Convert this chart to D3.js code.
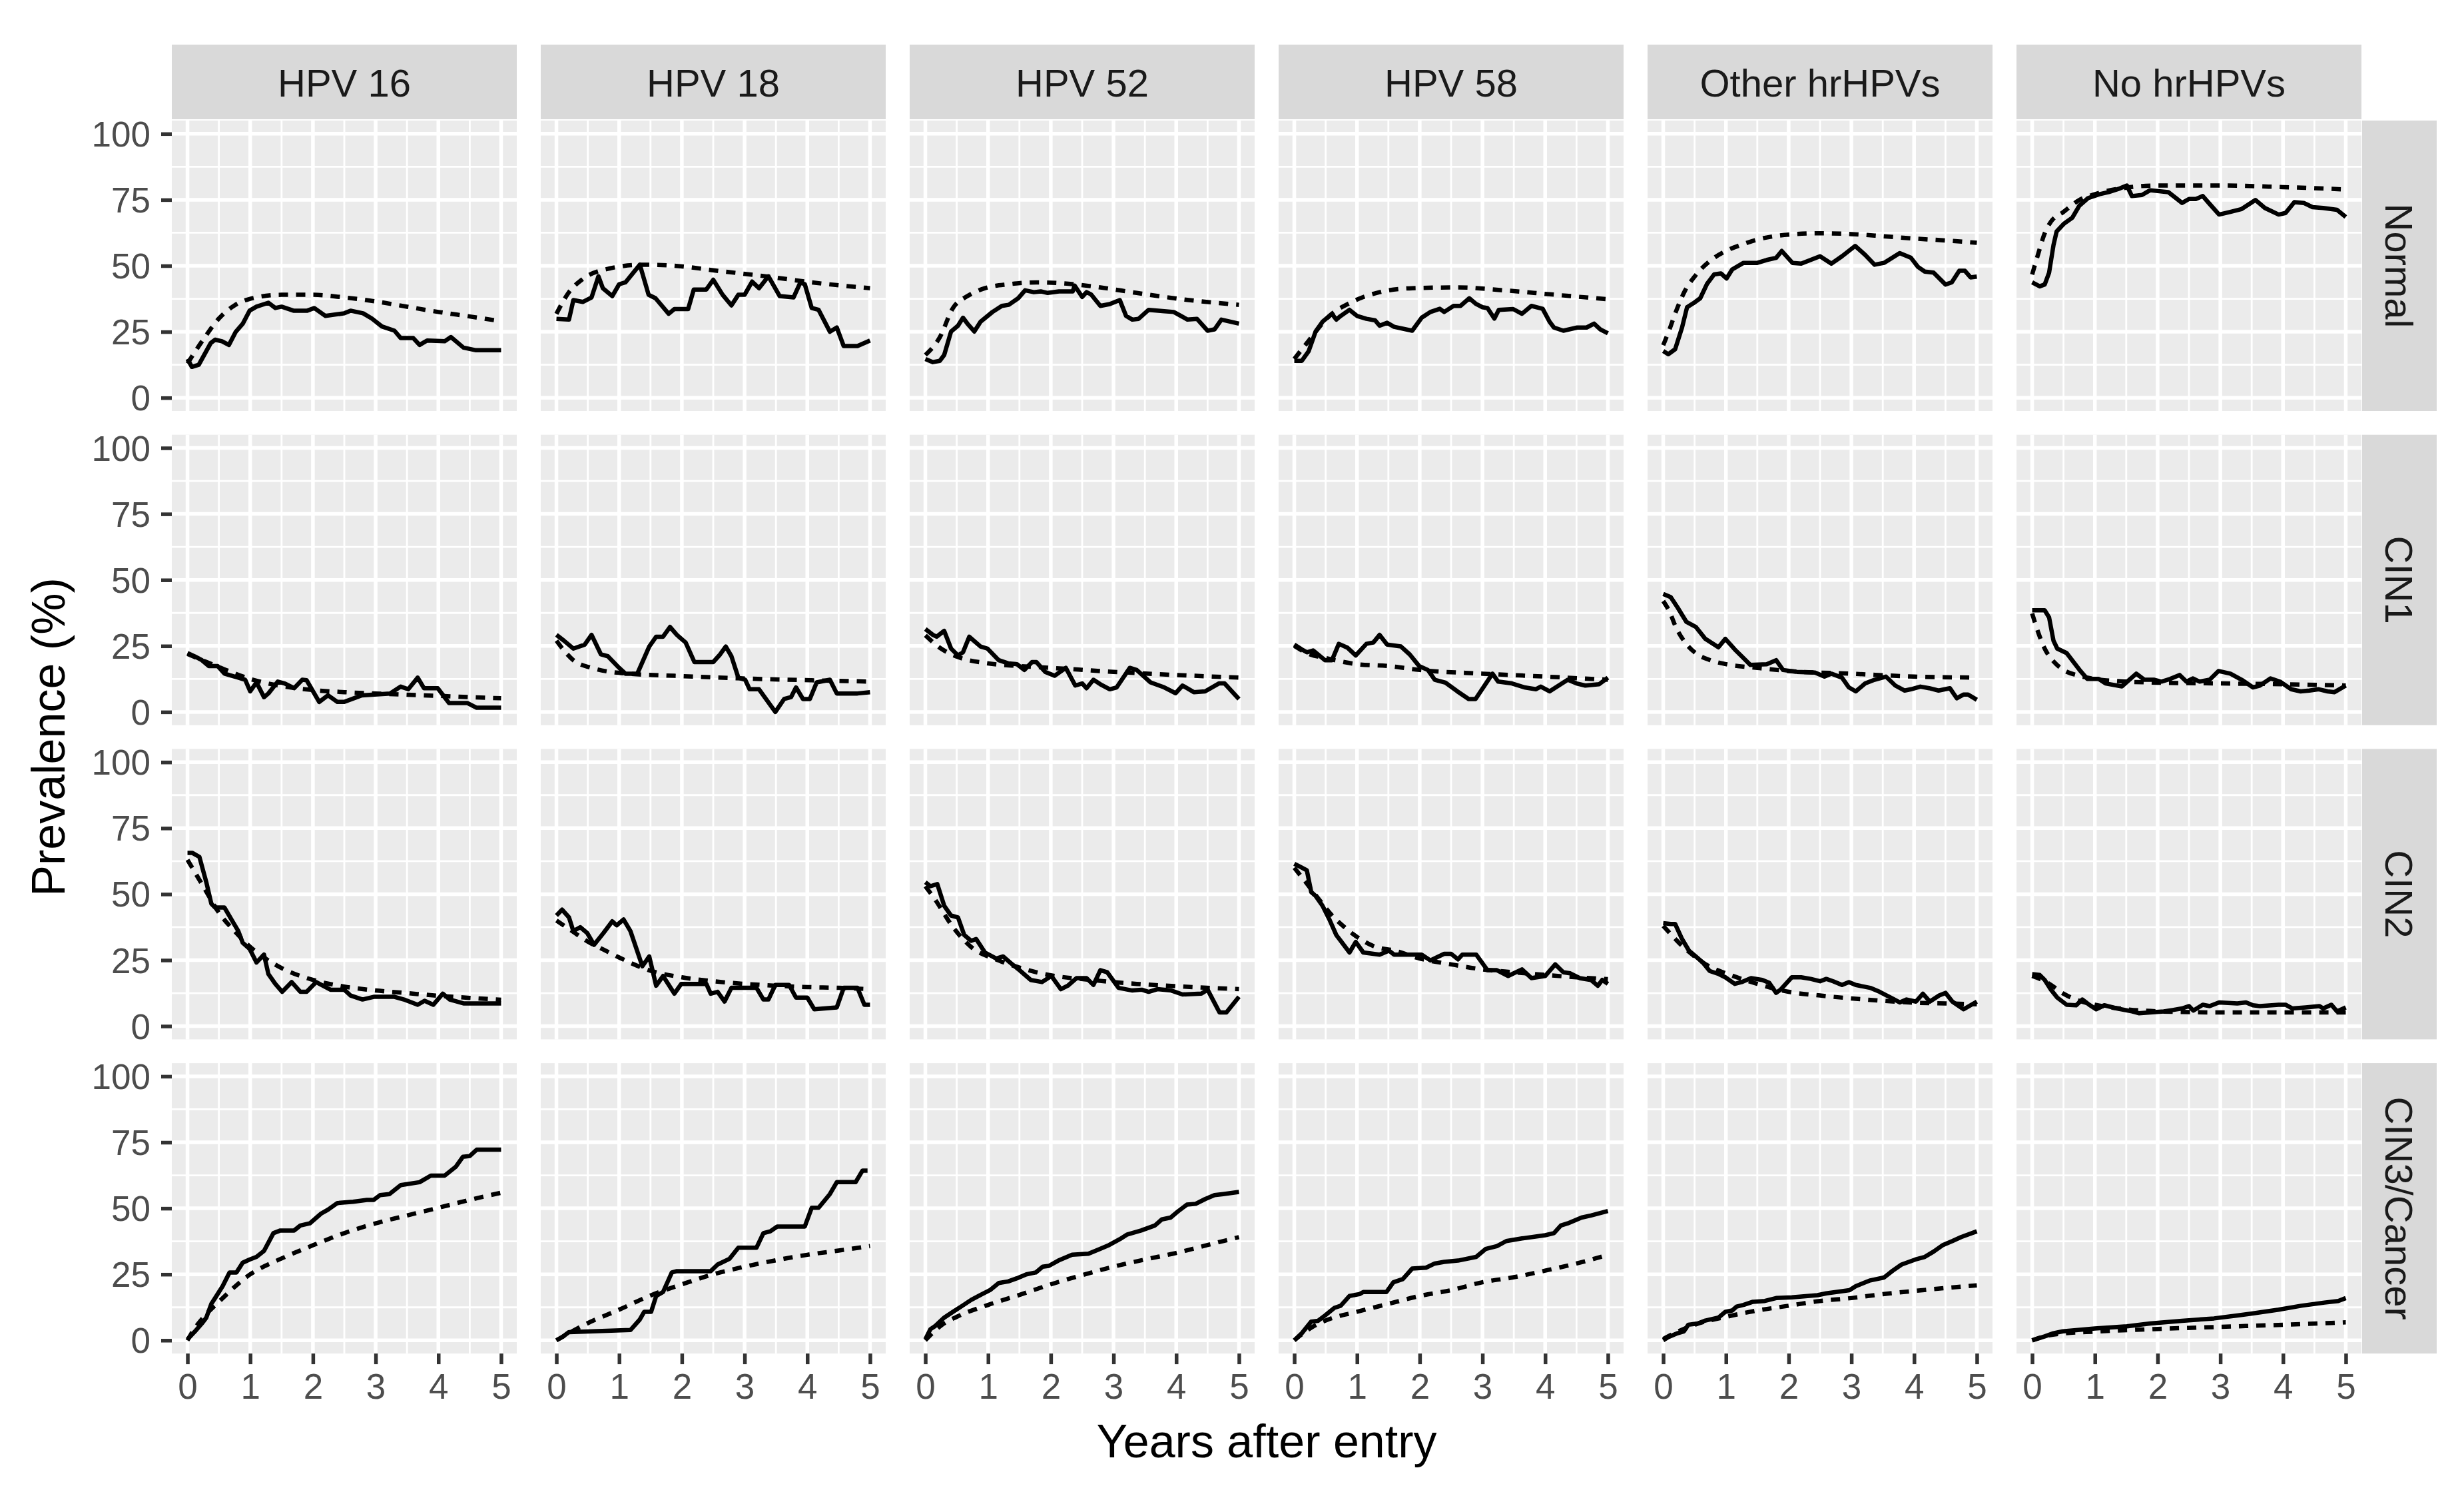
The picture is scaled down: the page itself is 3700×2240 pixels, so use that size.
<!DOCTYPE html>
<html>
<head>
<meta charset="utf-8">
<script src="https://cdn.jsdelivr.net/npm/d3@7"></script>
<style>
  html, body { margin: 0; padding: 0; background: #ffffff; }
  svg { display: block; }
</style>
</head>
<body>
<svg id="chart" width="3700" height="2240"></svg>
<script>
// ---------------- DATA ----------------
const viruses = ["HPV 16", "HPV 18", "HPV 52", "HPV 58", "Other hrHPVs", "No hrHPVs"];
const lesions = ["Normal", "CIN1", "CIN2", "CIN3/Cancer"];
const xTicks = [0, 1, 2, 3, 4, 5];
const yTicks = [0, 25, 50, 75, 100];
const xTitle = "Years after entry";
const yTitle = "Prevalence (%)";

// observed prevalence (solid) and model fit (dashed): [years, %]
// ---- Normal ----
const obs_HPV16_Normal = [[0,14.7],[0.07,11.7],[0.18,12.5],[0.37,20.7],[0.44,22],[0.55,21.4],[0.66,20],[0.77,25],[0.88,28],[0.99,33],[1.1,34.5],[1.29,36],[1.4,34],[1.5,34.5],[1.69,33],[1.91,33],[2.02,34],[2.2,31],[2.5,32],[2.6,33],[2.8,32],[2.94,30],[3.1,27],[3.3,25.4],[3.4,22.6],[3.6,22.6],[3.7,20],[3.82,21.7],[4.1,21.4],[4.2,23],[4.4,19],[4.6,18],[5,18]];
const fit_HPV16_Normal = [[0,13],[0.25,22],[0.5,30],[0.75,35],[1,37.5],[1.5,39],[2,39],[2.5,38],[3,36.5],[3.5,34.5],[4,32.5],[4.5,30.8],[5,29]];
const obs_HPV18_Normal = [[0,29.9],[0.2,29.6],[0.27,37],[0.42,36.3],[0.56,38],[0.67,46],[0.74,41.5],[0.89,38.5],[1.0,43],[1.1,43.7],[1.33,50.4],[1.47,39],[1.58,37.7],[1.79,31.8],[1.88,33.6],[2.1,33.6],[2.19,41],[2.39,41],[2.5,44.7],[2.65,39],[2.79,35],[2.9,39],[3.0,39],[3.12,44],[3.23,41.5],[3.38,46],[3.56,38.5],[3.78,38],[3.89,43.7],[3.96,43],[4.07,34],[4.18,33.3],[4.36,25],[4.47,26.6],[4.58,19.6],[4.8,19.6],[5,21.7]];
const fit_HPV18_Normal = [[0,31.8],[0.2,40],[0.42,45],[0.85,49],[1.37,50.4],[1.88,50],[2.6,48],[3.34,46],[4.07,43.7],[5,41.5]];
const obs_HPV52_Normal = [[0,14.7],[0.12,13.5],[0.23,14],[0.3,16.2],[0.41,25.1],[0.52,27.3],[0.6,30.3],[0.67,28.1],[0.78,25.1],[0.88,28.8],[1.07,32.5],[1.22,34.8],[1.33,35.2],[1.48,37.7],[1.59,40.7],[1.73,40],[1.84,40.3],[1.95,39.7],[2.13,40.3],[2.35,40.3],[2.38,42.5],[2.5,38.2],[2.57,40],[2.64,39.2],[2.79,34.8],[2.94,35.5],[3.1,37],[3.2,31],[3.3,29.6],[3.4,29.9],[3.56,33.3],[3.81,32.8],[3.96,32.5],[4.18,29.6],[4.33,29.9],[4.5,25.4],[4.61,25.9],[4.72,29.6],[5,28.1]];
const fit_HPV52_Normal = [[0,16.2],[0.23,22.9],[0.44,34],[0.67,38.5],[0.95,41.5],[1.33,43],[1.77,43.7],[2.28,43.2],[2.79,41.8],[3.37,39.7],[4.1,37.3],[5,35.2]];
const obs_HPV58_Normal = [[0,14],[0.12,14],[0.23,17.7],[0.34,25.1],[0.45,28.8],[0.6,31.8],[0.67,29.6],[0.74,31],[0.88,33.3],[1.0,31],[1.15,29.9],[1.29,29.3],[1.36,27.3],[1.48,28.4],[1.59,26.9],[1.88,25.4],[2.03,30.3],[2.17,32.5],[2.32,33.7],[2.39,32.5],[2.54,34.8],[2.65,34.8],[2.79,37.7],[2.9,35.5],[3.0,34.3],[3.08,34],[3.19,30],[3.26,33.3],[3.49,33.6],[3.63,31.8],[3.78,34.8],[3.96,33.7],[4.07,28.8],[4.14,26.6],[4.29,25.4],[4.51,26.6],[4.66,26.6],[4.78,28.1],[4.88,25.9],[5,24.4]];
const fit_HPV58_Normal = [[0,14.7],[0.2,20.7],[0.56,31],[0.92,36.3],[1.36,40],[1.88,41.5],[2.6,41.8],[3.34,40.7],[4.07,39.2],[5,37.3]];
const obs_Other_Normal = [[0,17.7],[0.08,16.5],[0.19,18.4],[0.3,26.6],[0.38,34.3],[0.48,35.8],[0.59,37.7],[0.7,43.2],[0.81,46.7],[0.92,47.1],[1.01,45.2],[1.1,48.6],[1.28,51.1],[1.5,51.1],[1.65,52.2],[1.8,53],[1.89,55.6],[2.06,51.1],[2.2,50.8],[2.35,52.2],[2.5,53.6],[2.68,50.8],[2.85,53.6],[3.06,57.5],[3.22,54.1],[3.37,50.4],[3.52,51.1],[3.77,54.8],[3.95,53],[4.06,49.6],[4.17,47.8],[4.31,47.4],[4.5,42.9],[4.6,43.7],[4.72,48.1],[4.81,48.1],[4.9,45.6],[5,45.9]];
const fit_Other_Normal = [[0,19.9],[0.1,25.9],[0.2,32.5],[0.35,40.7],[0.5,45.9],[0.75,51.9],[1,55.6],[1.25,58],[1.5,59.9],[2,61.8],[2.5,62.3],[3,62],[3.5,61.2],[4,60.3],[4.5,59.6],[5,58.7]];
const obs_NoHr_Normal = [[0,43.7],[0.12,42.2],[0.2,42.9],[0.27,47.4],[0.34,57.8],[0.39,63],[0.51,66],[0.64,68.2],[0.75,72.7],[0.89,75.6],[1.07,77.1],[1.22,77.9],[1.4,79.3],[1.51,80.4],[1.59,76.4],[1.75,76.8],[1.88,78.6],[2.17,77.9],[2.39,73.8],[2.5,75.3],[2.61,75.3],[2.72,76.4],[2.83,73.4],[2.98,69.4],[3.16,70.4],[3.34,71.5],[3.56,74.9],[3.71,71.9],[3.93,69.4],[4.04,70],[4.18,74.1],[4.33,73.8],[4.47,72.2],[4.64,71.9],[4.86,71.2],[5,68.5]];
const fit_NoHr_Normal = [[0,46.7],[0.1,54.8],[0.2,62.3],[0.3,66.7],[0.5,70.4],[0.75,74.9],[1,77.1],[1.5,79.6],[2,80.4],[3,80.4],[4,79.8],[5,78.9]];
// ---- CIN1 ----
const obs_HPV16_CIN1 = [[0,22.3],[0.12,21],[0.23,19.6],[0.34,17.4],[0.48,17.4],[0.59,14.5],[0.81,13],[0.92,12.2],[1.0,7.8],[1.1,11.2],[1.22,5.6],[1.29,7],[1.44,11.5],[1.55,10.8],[1.7,9],[1.83,12.2],[1.9,12],[2.1,3.8],[2.24,6.3],[2.39,3.8],[2.5,3.8],[2.78,6.3],[3.23,7],[3.4,9.6],[3.52,8.6],[3.67,13],[3.77,9],[3.99,9],[4.17,3.4],[4.46,3.4],[4.61,1.6],[5,1.6]];
const fit_HPV16_CIN1 = [[0,22],[0.5,17],[1,12.5],[1.5,9.8],[2,8.3],[2.5,7.5],[3,7],[3.5,6.5],[4,6.1],[4.5,5.6],[5,5.2]];
const obs_HPV18_CIN1 = [[0,29.2],[0.12,27],[0.27,24],[0.45,25.5],[0.56,29.2],[0.71,21.8],[0.82,21.1],[1.0,16.7],[1.1,14.5],[1.29,14.5],[1.48,24.8],[1.59,28.5],[1.7,28.5],[1.81,32.2],[1.92,29.2],[2.06,26.3],[2.2,18.9],[2.5,18.9],[2.61,21.8],[2.7,24.8],[2.79,21.1],[2.9,13],[3.01,12.2],[3.08,8.6],[3.23,8.6],[3.49,0],[3.63,4.9],[3.74,5.6],[3.82,9.3],[3.93,4.9],[4.04,4.9],[4.15,11.2],[4.36,12.2],[4.47,7],[4.8,7],[5,7.5]];
const fit_HPV18_CIN1 = [[0,27],[0.12,23.3],[0.27,19.6],[0.56,16.7],[1.15,14.5],[1.88,13.7],[2.97,12.7],[4.07,12],[5,11.5]];
const obs_HPV52_CIN1 = [[0,31.4],[0.12,29.2],[0.18,28.5],[0.3,30.7],[0.41,24],[0.52,21.4],[0.6,22.6],[0.7,28.5],[0.88,24.8],[0.99,24],[1.17,19.6],[1.32,18.4],[1.46,18.1],[1.58,15.9],[1.7,18.9],[1.77,18.9],[1.91,15.2],[2.06,13.7],[2.24,16.7],[2.39,10],[2.5,10.8],[2.57,9],[2.68,12.2],[2.79,10.5],[2.94,8.6],[3.05,9.3],[3.26,16.7],[3.37,15.9],[3.59,11.2],[3.81,9.3],[3.99,7.1],[4.1,10],[4.28,7.5],[4.46,7.8],[4.68,10.8],[4.77,10.8],[5,4.9]];
const fit_HPV52_CIN1 = [[0,29],[0.25,24],[0.5,21],[1,18.4],[1.5,17.4],[2,16.7],[3,15.2],[4,14],[5,13]];
const obs_HPV58_CIN1 = [[0,25.5],[0.12,23.7],[0.2,22.6],[0.3,23.3],[0.49,19.6],[0.6,19.6],[0.71,25.8],[0.85,24.3],[0.98,21.4],[1.15,25.8],[1.26,26.3],[1.36,29.2],[1.48,25.5],[1.7,24.8],[1.84,21.8],[1.99,17.4],[2.13,15.9],[2.24,12.2],[2.41,11.1],[2.6,7.8],[2.78,4.9],[2.89,4.9],[3.16,14.5],[3.25,11.5],[3.47,10.8],[3.67,9.3],[3.85,8.6],[3.93,9.6],[4.07,7.8],[4.36,12.2],[4.5,10.8],[4.64,10],[4.86,10.5],[5,13]];
const fit_HPV58_CIN1 = [[0,25],[0.25,21.8],[0.5,20.4],[1,18.1],[1.5,17.4],[2,15.9],[3,14.5],[4,13.4],[5,12.2]];
const obs_Other_CIN1 = [[0,44.7],[0.12,43.5],[0.23,39.5],[0.37,34.1],[0.52,32.2],[0.67,27.7],[0.88,24.5],[0.99,27.7],[1.14,23.7],[1.28,20.4],[1.39,17.8],[1.65,18.1],[1.8,19.6],[1.91,15.9],[2.13,15.2],[2.42,14.9],[2.57,13.4],[2.68,14.5],[2.85,13],[2.96,9.3],[3.07,7.8],[3.22,10.8],[3.37,12.2],[3.55,13.4],[3.7,10],[3.85,8.1],[3.95,8.6],[4.1,9.6],[4.24,9],[4.39,8.1],[4.57,9],[4.68,5.2],[4.79,6.6],[4.86,6.6],[5,4.6]];
const fit_Other_CIN1 = [[0,42],[0.1,38],[0.2,32.2],[0.35,26.3],[0.5,22.6],[0.75,19.6],[1,18.1],[1.5,16.7],[2,15.5],[3,14.5],[4,13.4],[5,13]];
const obs_NoHr_CIN1 = [[0,38.5],[0.09,38.5],[0.2,38.5],[0.27,35.8],[0.34,27],[0.4,24],[0.55,22.3],[0.66,18.9],[0.77,15.5],[0.88,12.5],[1.06,12.5],[1.17,10.8],[1.43,9.7],[1.55,12.2],[1.66,14.5],[1.79,12.2],[1.94,12.2],[2.06,11.5],[2.2,12.5],[2.35,14],[2.46,11.5],[2.56,12.7],[2.67,11.5],[2.83,12.2],[2.97,15.5],[3.16,14.5],[3.34,12.2],[3.52,9.3],[3.63,10],[3.8,12.7],[3.95,11.5],[4.13,8.6],[4.28,7.8],[4.42,8.1],[4.57,8.6],[4.71,7.8],[4.82,7.5],[5,10]];
const fit_NoHr_CIN1 = [[0,37.3],[0.1,29.9],[0.2,24],[0.35,18.9],[0.5,15.9],[0.75,13.7],[1,12.5],[1.5,11.5],[2,11.1],[3,10.8],[4,10.5],[5,10]];
// ---- CIN2 ----
const obs_HPV16_CIN2 = [[0,65.6],[0.08,65.6],[0.19,64.1],[0.3,54.5],[0.38,46.4],[0.44,44.9],[0.59,44.9],[0.7,40.4],[0.81,36],[0.88,31.6],[0.99,29.3],[1.1,24.1],[1.22,27.1],[1.29,19.7],[1.4,16],[1.51,13],[1.66,16.7],[1.8,13],[1.9,13],[2.05,16.7],[2.28,13.8],[2.5,13.8],[2.6,11.6],[2.79,10.1],[2.97,11.1],[3.3,11.1],[3.45,10.1],[3.67,8.1],[3.78,9.6],[3.92,8.1],[4.07,12.3],[4.18,10.1],[4.4,8.6],[5,8.6]];
const fit_HPV16_CIN2 = [[0,63],[0.25,53],[0.5,43],[0.75,36],[1,30],[1.25,25.5],[1.5,22],[2,17.5],[2.5,15],[3,13.5],[3.5,12.5],[4,11.5],[4.5,10.7],[5,10]];
const obs_HPV18_CIN2 = [[0,41.9],[0.09,44.1],[0.2,41.2],[0.27,36],[0.38,37.5],[0.49,35.3],[0.6,30.8],[0.75,35.3],[0.89,39.7],[0.96,38.2],[1.07,40.4],[1.18,36],[1.37,22.7],[1.48,26.4],[1.59,15.3],[1.7,19],[1.88,12.3],[1.99,16],[2.39,16],[2.46,12.3],[2.57,13],[2.68,9.3],[2.79,14.5],[3.19,14.5],[3.3,10.1],[3.38,10.1],[3.49,15.6],[3.71,15.6],[3.82,10.8],[4.0,10.8],[4.11,6.4],[4.47,7.1],[4.58,14.5],[4.8,14.5],[4.91,8.1],[5,8.1]];
const fit_HPV18_CIN2 = [[0,40],[0.25,36],[0.5,32],[0.75,29],[1,26],[1.5,21],[2,18.5],[2.5,17],[3,16],[3.5,15.3],[4,14.8],[4.5,14.5],[5,14]];
const obs_HPV52_CIN2 = [[0,54.5],[0.08,53],[0.19,53.8],[0.3,45.6],[0.41,41.9],[0.52,41.2],[0.62,34.5],[0.73,32.3],[0.81,33],[0.95,27.9],[1.13,25.6],[1.24,26.4],[1.35,24.1],[1.5,21.2],[1.68,17.5],[1.86,16.7],[2.01,19],[2.16,14],[2.27,15.3],[2.41,18.2],[2.57,18.2],[2.68,15.6],[2.79,21.2],[2.9,20.4],[3.08,14.5],[3.3,13.5],[3.45,13.8],[3.56,13],[3.7,14],[3.92,13.5],[4.1,12],[4.4,12.3],[4.5,13.8],[4.69,5.2],[4.8,5.2],[5,11.1]];
const fit_HPV52_CIN2 = [[0,53],[0.16,47.8],[0.44,37.5],[0.73,30],[1.17,24.9],[1.54,21.9],[1.9,19.7],[2.64,17.5],[3.37,16],[4.1,15],[5,14]];
const obs_HPV58_CIN2 = [[0,61.5],[0.09,60.4],[0.2,59],[0.27,50.8],[0.34,49.3],[0.45,45.6],[0.56,40.4],[0.67,34.5],[0.74,32.3],[0.88,27.9],[0.98,31.9],[1.1,27.9],[1.36,27.1],[1.51,28.6],[1.59,27.1],[2.03,27.1],[2.17,24.9],[2.39,27.4],[2.5,27.4],[2.61,25.3],[2.68,27.1],[2.9,27.1],[3.08,21.2],[3.23,21.2],[3.41,19],[3.63,21.5],[3.78,18.2],[4.0,19],[4.16,23.4],[4.29,20.4],[4.4,20],[4.55,18.2],[4.73,17.5],[4.84,15.3],[4.91,17.5],[5,16]];
const fit_HPV58_CIN2 = [[0,60],[0.2,54],[0.4,47.8],[0.6,42],[0.8,37.5],[1,33.8],[1.3,30],[1.6,28.6],[2,25.6],[2.5,23.4],[3,21.5],[3.5,20.4],[4,19.4],[4.5,18.5],[5,17.8]];
const obs_Other_CIN2 = [[0,39],[0.12,38.7],[0.19,38.7],[0.3,33],[0.41,28.6],[0.52,26.4],[0.63,24.1],[0.74,20.9],[0.89,19.7],[0.99,18.5],[1.14,16],[1.25,16.7],[1.4,18.2],[1.58,17.5],[1.69,16.4],[1.8,12.6],[1.87,13.8],[2.05,18.5],[2.2,18.5],[2.35,17.9],[2.5,17],[2.6,17.9],[2.71,17],[2.85,15.6],[2.96,16.7],[3.07,15.6],[3.3,14.5],[3.45,13],[3.63,10.8],[3.77,9],[3.88,10.1],[4.03,9.3],[4.14,12.3],[4.25,9.3],[4.4,11.6],[4.5,12.6],[4.61,9.3],[4.79,6.4],[5,9.3]];
const fit_Other_CIN2 = [[0,38],[0.25,31.6],[0.5,26.4],[0.75,22.4],[1,20],[1.5,16],[2,13],[2.5,11.6],[3,10.5],[3.5,9.6],[4,8.9],[4.5,8.6],[5,8.3]];
const obs_NoHr_CIN2 = [[0,19.7],[0.12,19.4],[0.2,17.5],[0.3,13.8],[0.4,10.8],[0.55,8.1],[0.7,7.9],[0.8,10.1],[0.91,8.1],[1.02,6.4],[1.15,7.9],[1.35,6.7],[1.59,5.6],[1.7,4.9],[1.88,5.2],[2.1,5.6],[2.24,6.1],[2.39,6.7],[2.5,7.6],[2.57,5.9],[2.72,8.1],[2.83,7.6],[2.98,9],[3.27,8.6],[3.41,9],[3.52,7.9],[3.63,7.6],[3.93,8.1],[4.04,8.1],[4.15,6.7],[4.36,7.1],[4.58,7.6],[4.64,6.7],[4.77,8.1],[4.86,5.6],[5,7.1]];
const fit_NoHr_CIN2 = [[0,19],[0.25,16.4],[0.5,12.3],[0.75,9.6],[1,8.1],[1.5,6.4],[2,5.6],[3,5.2],[4,5.2],[5,5.2]];
// ---- CIN3/Cancer ----
const obs_HPV16_CIN3 = [[0,0.4],[0.12,3.4],[0.23,6.4],[0.3,8.6],[0.38,13.8],[0.44,16],[0.56,20.5],[0.67,25.7],[0.78,25.7],[0.88,29.4],[0.99,30.6],[1.1,31.6],[1.22,33.9],[1.37,40.6],[1.48,41.6],[1.7,41.6],[1.8,43.5],[1.95,44.3],[2.13,48],[2.24,49.5],[2.39,52],[2.64,52.5],[2.86,53.2],[2.97,53.2],[3.07,55],[3.22,55.4],[3.4,58.8],[3.7,59.9],[3.88,62.4],[4.1,62.4],[4.28,65.8],[4.39,69.5],[4.5,69.8],[4.61,72.2],[5,72.2]];
const fit_HPV16_CIN3 = [[0,0],[0.1,4],[0.25,8.6],[0.5,14.6],[1,25],[1.5,31],[2,36],[2.5,40.6],[3,44.3],[3.5,47.3],[4,50.2],[4.5,53.2],[5,55.9]];
const obs_HPV18_CIN3 = [[0,0],[0.09,1.2],[0.2,3.1],[1.18,3.9],[1.33,7.9],[1.4,10.8],[1.51,10.8],[1.59,16.8],[1.7,18.3],[1.84,25.7],[1.92,26.2],[2.46,26.2],[2.57,28.7],[2.76,30.9],[2.9,35.1],[3.19,35.1],[3.3,40.6],[3.41,41.3],[3.52,43.1],[3.96,43.1],[4.07,50.2],[4.18,50.2],[4.36,55.4],[4.47,59.9],[4.77,59.9],[4.88,64.3],[4.96,64.3]];
const fit_HPV18_CIN3 = [[0,0],[0.5,6.5],[1,11.6],[1.5,17],[2,21.2],[2.5,25],[3,27.9],[3.5,30.3],[4,32.4],[4.5,34],[5,35.7]];
const obs_HPV52_CIN3 = [[0,0.4],[0.08,4.2],[0.15,5.3],[0.3,8.6],[0.44,10.8],[0.59,13.1],[0.73,15.3],[0.88,17.2],[1.03,19],[1.17,21.7],[1.32,22.3],[1.46,23.5],[1.61,25],[1.76,25.7],[1.87,27.9],[1.97,28.2],[2.12,30.2],[2.34,32.4],[2.6,32.8],[2.78,34.6],[2.93,36.1],[3.1,38.3],[3.22,40.1],[3.44,41.6],[3.66,43.5],[3.77,45.8],[3.91,46.5],[4.02,48.7],[4.17,51.4],[4.31,51.7],[4.46,53.5],[4.61,55],[4.75,55.4],[5,56.2]];
const fit_HPV52_CIN3 = [[0,0],[0.25,5.6],[0.5,8.9],[1,13.4],[1.5,17.2],[2,21.2],[2.5,24.7],[3,27.9],[3.5,30.6],[4,33.1],[4.5,36.1],[5,39.1]];
const obs_HPV58_CIN3 = [[0,0],[0.12,2.7],[0.27,7.1],[0.38,7.4],[0.49,9.4],[0.64,12.3],[0.74,13.1],[0.88,16.8],[1.04,17.5],[1.1,18.3],[1.47,18.3],[1.58,22],[1.73,23.2],[1.88,27.2],[2.1,27.5],[2.24,29.1],[2.39,29.7],[2.61,30.2],[2.9,31.6],[3.05,34.6],[3.23,35.7],[3.38,37.6],[3.63,38.6],[4.0,39.8],[4.14,40.6],[4.25,43.5],[4.36,44.3],[4.58,46.5],[4.73,47.3],[5,49]];
const fit_HPV58_CIN3 = [[0,0],[0.25,4.5],[0.5,7.5],[1,10.8],[1.5,13.8],[2,16.8],[2.5,19],[3,22],[3.5,23.9],[4,26.4],[4.5,29.1],[5,32.4]];
const obs_Other_CIN3 = [[0,0],[0.08,1.2],[0.23,2.7],[0.33,3.4],[0.4,5.9],[0.55,6.4],[0.66,7.4],[0.88,8.6],[0.99,10.8],[1.1,11.3],[1.17,12.8],[1.28,13.4],[1.43,14.6],[1.62,14.9],[1.8,16],[2.05,16.3],[2.46,17.1],[2.6,17.8],[2.97,19],[3.07,20.5],[3.3,22.7],[3.52,23.8],[3.66,26.4],[3.8,28.7],[4.02,30.6],[4.17,31.6],[4.31,33.6],[4.46,36.1],[4.61,37.6],[4.75,39.1],[5,41.3]];
const fit_Other_CIN3 = [[0,0.5],[0.25,3.5],[0.5,5.9],[1,8.9],[1.5,11.3],[2,13.1],[2.5,14.9],[3,16],[3.5,17.5],[4,18.7],[4.5,19.8],[5,20.8]];
const obs_NoHr_CIN3 = [[0,0],[0.2,1.5],[0.34,2.7],[0.49,3.4],[1.0,4.5],[1.51,5.3],[1.88,6.4],[2.39,7.4],[2.9,8.3],[3.27,9.4],[3.49,10.1],[3.93,11.6],[4.29,13.1],[4.66,14.3],[4.88,14.9],[5,16]];
const fit_NoHr_CIN3 = [[0,0],[0.25,1.8],[0.5,2.6],[1,3.3],[2,4.3],[3,5.1],[4,5.9],[5,6.8]];

// table built from the named arrays: rows = lesions, cols = viruses
const observedTable = [
  [obs_HPV16_Normal, obs_HPV18_Normal, obs_HPV52_Normal, obs_HPV58_Normal, obs_Other_Normal, obs_NoHr_Normal],
  [obs_HPV16_CIN1, obs_HPV18_CIN1, obs_HPV52_CIN1, obs_HPV58_CIN1, obs_Other_CIN1, obs_NoHr_CIN1],
  [obs_HPV16_CIN2, obs_HPV18_CIN2, obs_HPV52_CIN2, obs_HPV58_CIN2, obs_Other_CIN2, obs_NoHr_CIN2],
  [obs_HPV16_CIN3, obs_HPV18_CIN3, obs_HPV52_CIN3, obs_HPV58_CIN3, obs_Other_CIN3, obs_NoHr_CIN3]
];
const fitTable = [
  [fit_HPV16_Normal, fit_HPV18_Normal, fit_HPV52_Normal, fit_HPV58_Normal, fit_Other_Normal, fit_NoHr_Normal],
  [fit_HPV16_CIN1, fit_HPV18_CIN1, fit_HPV52_CIN1, fit_HPV58_CIN1, fit_Other_CIN1, fit_NoHr_CIN1],
  [fit_HPV16_CIN2, fit_HPV18_CIN2, fit_HPV52_CIN2, fit_HPV58_CIN2, fit_Other_CIN2, fit_NoHr_CIN2],
  [fit_HPV16_CIN3, fit_HPV18_CIN3, fit_HPV52_CIN3, fit_HPV58_CIN3, fit_Other_CIN3, fit_NoHr_CIN3]
];

// ---------------- LAYOUT ----------------
const FONT = "'Liberation Sans', Arial, Helvetica, sans-serif";
const panelLeft = 258, panelTop = 181;
const panelW = 518, panelH = 436;
const colPitch = 554, rowPitch = 471.7;
const stripTopY = 67, stripH = 112;
const rightStripX = 3547, rightStripW = 112;

const svg = d3.select("#chart");
svg.append("rect").attr("width", 3700).attr("height", 2240).attr("fill", "#ffffff");

const x = d3.scaleLinear().domain([-0.25, 5.25]).range([0, panelW]);
const y = d3.scaleLinear().domain([-5, 105]).range([panelH, 0]);
const xMinor = [0.5, 1.5, 2.5, 3.5, 4.5];
const yMinor = [12.5, 37.5, 62.5, 87.5];

const lineGen = d3.line().x(d => x(d[0])).y(d => y(d[1])).curve(d3.curveLinear);
const fitGen = d3.line().x(d => x(d[0])).y(d => y(d[1])).curve(d3.curveMonotoneX);

lesions.forEach((les, r) => {
  viruses.forEach((vir, c) => {
    const px = panelLeft + c * colPitch;
    const py = panelTop + r * rowPitch;
    const g = svg.append("g").attr("transform", `translate(${px},${py})`);
    g.append("rect").attr("width", panelW).attr("height", panelH).attr("fill", "#ebebeb");
    // minor grid
    g.selectAll(".gxm").data(xMinor).enter().append("line")
      .attr("x1", d => x(d)).attr("x2", d => x(d)).attr("y1", 0).attr("y2", panelH)
      .attr("stroke", "#ffffff").attr("stroke-width", 2.8);
    g.selectAll(".gym").data(yMinor).enter().append("line")
      .attr("y1", d => y(d)).attr("y2", d => y(d)).attr("x1", 0).attr("x2", panelW)
      .attr("stroke", "#ffffff").attr("stroke-width", 2.8);
    // major grid
    g.selectAll(".gx").data(xTicks).enter().append("line")
      .attr("x1", d => x(d)).attr("x2", d => x(d)).attr("y1", 0).attr("y2", panelH)
      .attr("stroke", "#ffffff").attr("stroke-width", 5.5);
    g.selectAll(".gy").data(yTicks).enter().append("line")
      .attr("y1", d => y(d)).attr("y2", d => y(d)).attr("x1", 0).attr("x2", panelW)
      .attr("stroke", "#ffffff").attr("stroke-width", 5.5);
    // clip
    const cid = `clip-${r}-${c}`;
    g.append("clipPath").attr("id", cid).append("rect").attr("width", panelW).attr("height", panelH);
    const lg = g.append("g").attr("clip-path", `url(#${cid})`);
    lg.append("path").datum(observedTable[r][c]).attr("d", lineGen)
      .attr("fill", "none").attr("stroke", "#000000").attr("stroke-width", 6.5)
      .attr("stroke-linejoin", "round");
    lg.append("path").datum(fitTable[r][c]).attr("d", fitGen)
      .attr("fill", "none").attr("stroke", "#000000").attr("stroke-width", 6.5)
      .attr("stroke-dasharray", "14,12");

    // y axis on first column
    if (c === 0) {
      const ax = g.append("g").call(d3.axisLeft(y).tickValues(yTicks).tickFormat(d3.format("d")).tickSize(16).tickPadding(16));
      ax.select(".domain").remove();
      ax.selectAll(".tick line").attr("stroke", "#333333").attr("stroke-width", 5.5);
      ax.selectAll(".tick text").attr("fill", "#4d4d4d").attr("font-size", 53)
        .attr("font-family", FONT).attr("dy", "0.35em");
    }
    // x axis on last row
    if (r === lesions.length - 1) {
      const ax = g.append("g").attr("transform", `translate(0,${panelH})`)
        .call(d3.axisBottom(x).tickValues(xTicks).tickFormat(d3.format("d")).tickSize(16).tickPadding(14));
      ax.select(".domain").remove();
      ax.selectAll(".tick line").attr("stroke", "#333333").attr("stroke-width", 5.5);
      ax.selectAll(".tick text").attr("fill", "#4d4d4d").attr("font-size", 53)
        .attr("font-family", FONT).attr("dy", "0.71em");
    }
  });
});

// top strips
viruses.forEach((vir, c) => {
  const px = panelLeft + c * colPitch;
  svg.append("rect").attr("x", px).attr("y", stripTopY).attr("width", panelW).attr("height", stripH)
    .attr("fill", "#d9d9d9");
  svg.append("text").attr("x", px + panelW / 2).attr("y", 145)
    .attr("text-anchor", "middle").attr("font-family", FONT).attr("font-size", 58)
    .attr("fill", "#1a1a1a").text(vir);
});
// right strips
lesions.forEach((les, r) => {
  const py = panelTop + r * rowPitch;
  svg.append("rect").attr("x", rightStripX).attr("y", py).attr("width", rightStripW).attr("height", panelH)
    .attr("fill", "#d9d9d9");
  svg.append("text").attr("transform", `translate(${rightStripX + rightStripW / 2 - 21},${py + panelH / 2}) rotate(90)`)
    .attr("text-anchor", "middle").attr("font-family", FONT).attr("font-size", 58)
    .attr("fill", "#1a1a1a").text(les);
});

// axis titles
const plotMidX = (panelLeft + panelLeft + 5 * colPitch + panelW) / 2;
const plotMidY = (panelTop + panelTop + 3 * rowPitch + panelH) / 2;
svg.append("text").attr("x", plotMidX).attr("y", 2188)
  .attr("text-anchor", "middle").attr("font-family", FONT).attr("font-size", 70)
  .attr("fill", "#000000").text(xTitle);
svg.append("text").attr("transform", `translate(97,${plotMidY}) rotate(-90)`)
  .attr("text-anchor", "middle").attr("font-family", FONT).attr("font-size", 70)
  .attr("fill", "#000000").text(yTitle);
</script>
</body>
</html>
